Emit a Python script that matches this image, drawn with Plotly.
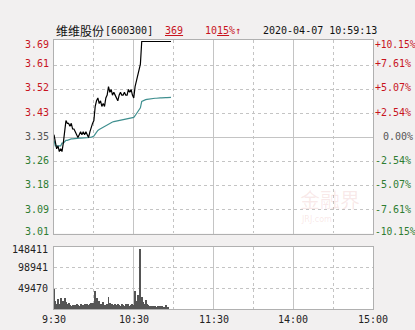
import plotly.graph_objects as go

# ---------------- data ----------------
prev_close = 3.35
price_levels = [3.69, 3.61, 3.52, 3.43, 3.35, 3.26, 3.18, 3.09, 3.01]
pct_labels = ["+10.15%", "+7.61%", "+5.07%", "+2.54%", "0.00%", "-2.54%", "-5.07%", "-7.61%", "-10.15%"]
vol_levels = [148411, 98941, 49470]
time_labels = ["9:30", "10:30", "11:30", "14:00", "15:00"]
time_pos = [0, 60, 120, 180, 240]

price = [3.36, 3.33, 3.31, 3.32, 3.30, 3.31, 3.30, 3.33, 3.38, 3.41,
         3.40, 3.40, 3.39, 3.40, 3.38, 3.38, 3.37, 3.36, 3.35, 3.36,
         3.37, 3.36, 3.37, 3.36, 3.37, 3.36, 3.35, 3.37, 3.39, 3.40,
         3.41, 3.46, 3.48, 3.49, 3.47, 3.48, 3.46, 3.47, 3.46, 3.49,
         3.50, 3.53, 3.51, 3.52, 3.50, 3.51, 3.50, 3.49, 3.48, 3.50,
         3.51, 3.50, 3.50, 3.51, 3.50, 3.50, 3.52, 3.51, 3.52, 3.50,
         3.49, 3.53, 3.55, 3.57, 3.58, 3.61, 3.69, 3.69, 3.69, 3.69,
         3.69, 3.69, 3.69, 3.69, 3.69, 3.69, 3.69, 3.69, 3.69, 3.69,
         3.69, 3.69, 3.69, 3.69, 3.69, 3.69, 3.69, 3.69, 3.69]

avg_price = [3.34, 3.32, 3.32, 3.32, 3.32, 3.32, 3.33, 3.33, 3.335, 3.34,
             3.34, 3.342, 3.344, 3.345, 3.345, 3.346, 3.346, 3.347, 3.347, 3.348,
             3.348, 3.348, 3.349, 3.349, 3.349, 3.35, 3.35, 3.35, 3.351, 3.352,
             3.355, 3.362, 3.37, 3.375, 3.378, 3.381, 3.384, 3.387, 3.39, 3.392,
             3.395, 3.399, 3.401, 3.403, 3.405, 3.406, 3.407, 3.408, 3.409, 3.41,
             3.411, 3.412, 3.413, 3.414, 3.415, 3.416, 3.417, 3.418, 3.419, 3.42,
             3.421, 3.427, 3.433, 3.44, 3.447, 3.455, 3.478, 3.481, 3.483, 3.484,
             3.485, 3.486, 3.487, 3.487, 3.488, 3.488, 3.489, 3.489, 3.49, 3.49,
             3.49, 3.49, 3.491, 3.491, 3.491, 3.491, 3.491, 3.492, 3.492]

volume = [47900, 19000, 13000, 24000, 12000, 25500, 14000, 20000, 27000, 16000,
          11000, 13500, 9500, 8000, 10500, 7500, 9000, 12000, 8500, 7000,
          11000, 8000, 9500, 12500, 7500, 13000, 9000, 11000, 15000, 14000,
          12500, 43900, 26000, 17000, 20000, 12000, 9000, 17500, 10000, 9000,
          11000, 28700, 14000, 9500, 11500, 8500, 13000, 9000, 12000, 10500,
          8000, 12500, 9500, 8000, 11000, 9000, 12500, 7500, 10000, 13000,
          9500, 43900, 18000, 33500, 12000, 143600, 28000, 16000, 11000, 21500,
          12000, 9500, 7500, 6500, 8000, 6000, 7000, 5500, 6500, 5000,
          7000, 6000, 5500, 4500, 8500, 5000, 4000]

minutes_p = list(range(len(price)))
minutes_v = list(range(len(volume)))

# ---------------- style ----------------
RED = "#c8141e"
GREEN = "#2f7d32"
GRAY = "#555555"
BG = "#f2f0f0"
GRID = "#c4c4c4"
MONO = "DejaVu Sans Mono"

W, H = 415, 330
X0, X1 = 54, 373
PY0, PY1 = 39.5, 233.5
VY0, VY1 = 247, 309
Y_TOP = 3.697   # small head-room so the limit-up line shows under the frame

def fy(px):
    return 1 - px / H

fig = go.Figure()
fig.add_trace(go.Scatter(x=minutes_p, y=avg_price, mode="lines",
                         line=dict(color="#3f8f8f", width=1.2),
                         xaxis="x", yaxis="y", hoverinfo="skip"))
fig.add_trace(go.Scatter(x=minutes_p, y=price, mode="lines",
                         line=dict(color="#000000", width=1.2, shape="linear"),
                         xaxis="x", yaxis="y", hoverinfo="skip"))
fig.add_trace(go.Bar(x=minutes_v, y=volume, marker=dict(color="#555555", line=dict(width=0)),
                     width=0.75, xaxis="x2", yaxis="y2", hoverinfo="skip"))

xcommon = dict(range=[0, 240], domain=[X0 / W, X1 / W], showticklabels=False,
               tickmode="linear", tick0=0, dtick=60, ticks="",
               showgrid=True, gridcolor=GRID, gridwidth=1,
               minor=dict(tickmode="linear", tick0=30, dtick=60, showgrid=True,
                          gridcolor=GRID, griddash="dot", gridwidth=1),
               showline=True, linecolor="#b0b0b0", linewidth=1, mirror=True,
               zeroline=False, fixedrange=True)

fig.update_layout(
    width=W, height=H, margin=dict(l=0, r=0, t=0, b=0),
    paper_bgcolor=BG, plot_bgcolor="#ffffff", showlegend=False, bargap=0,
    xaxis=dict(**xcommon, anchor="y"),
    xaxis2=dict(**xcommon, anchor="y2"),
    yaxis=dict(range=[price_levels[-1], Y_TOP], domain=[fy(PY1), fy(PY0)],
               showticklabels=False, tickmode="array", tickvals=[prev_close], ticks="",
               showgrid=True, gridcolor=GRID, gridwidth=1,
               minor=dict(tickmode="array",
                          tickvals=[3.605, 3.52, 3.435, 3.265, 3.18, 3.095],
                          showgrid=True, gridcolor=GRID, griddash="dot", gridwidth=1),
               showline=True, linecolor="#b0b0b0", linewidth=1, mirror=True,
               zeroline=False, fixedrange=True, anchor="x"),
    yaxis2=dict(range=[0, vol_levels[0]], domain=[fy(VY1), fy(VY0)],
                showticklabels=False, tickmode="array", tickvals=[], ticks="",
                showgrid=False,
                minor=dict(tickmode="array", tickvals=vol_levels[1:],
                           showgrid=True, gridcolor=GRID, griddash="dot", gridwidth=1),
                showline=True, linecolor="#b0b0b0", linewidth=1, mirror=True,
                zeroline=False, fixedrange=True, anchor="x2"),
)

ann = []
n = len(price_levels)
for i, (lv, pl) in enumerate(zip(price_levels, pct_labels)):
    ypx = PY0 + i * (PY1 - PY0) / (n - 1)
    if i == 0:
        ypx += 5
    if i == n - 1:
        ypx -= 2
    col = RED if lv > prev_close else (GREEN if lv < prev_close else GRAY)
    ann.append(dict(x=(X0 - 3) / W, y=fy(ypx), xref="paper", yref="paper", text=f"{lv:.2f}",
                    xanchor="right", yanchor="middle", showarrow=False,
                    font=dict(family=MONO, size=10, color=col)))
    xl = X1 + (8 if pl == "0.00%" else 0)
    ann.append(dict(x=xl / W, y=fy(ypx), xref="paper", yref="paper", text=pl,
                    xanchor="left", yanchor="middle", showarrow=False,
                    font=dict(family=MONO, size=10 if len(pl) < 7 else 9.6, color=col)))

for i, v in enumerate(vol_levels):
    ypx = VY0 + i * (VY1 - VY0) / 3 + (2 if i == 0 else 0)
    ann.append(dict(x=(X0 - 4) / W, y=fy(ypx), xref="paper", yref="paper", text=str(v),
                    xanchor="right", yanchor="middle", showarrow=False,
                    font=dict(family=MONO, size=10, color="#222222")))

for t, p in zip(time_labels, time_pos):
    xpx = X0 + (X1 - X0) * p / 240
    ann.append(dict(x=xpx / W, y=fy(319), xref="paper", yref="paper", text=t,
                    xanchor="center", yanchor="middle", showarrow=False,
                    font=dict(family=MONO, size=10, color="#222222")))

ann.append(dict(x=54 / W, y=fy(30), xref="paper", yref="paper", text="维维股份",
                xanchor="left", yanchor="middle", showarrow=False,
                font=dict(family="Noto Sans CJK SC", size=12, color="#111111")))
ann.append(dict(x=103 / W, y=fy(30), xref="paper", yref="paper", text="[600300]",
                xanchor="left", yanchor="middle", showarrow=False,
                font=dict(family=MONO, size=10, color="#111111")))
ann.append(dict(x=163 / W, y=fy(30), xref="paper", yref="paper", text="<u>369</u>",
                xanchor="left", yanchor="middle", showarrow=False,
                font=dict(family=MONO, size=10, color=RED)))
ann.append(dict(x=203 / W, y=fy(30), xref="paper", yref="paper", text="10<u>15</u>%↑",
                xanchor="left", yanchor="middle", showarrow=False,
                font=dict(family=MONO, size=10, color=RED)))
ann.append(dict(x=261 / W, y=fy(30), xref="paper", yref="paper", text="2020-04-07 10:59:13",
                xanchor="left", yanchor="middle", showarrow=False,
                font=dict(family=MONO, size=10, color="#111111")))

# watermark
ann.append(dict(x=330 / W, y=fy(199), xref="paper", yref="paper", text="金融界",
                xanchor="center", yanchor="middle", showarrow=False,
                font=dict(family="Noto Sans CJK SC", size=20, color="rgba(215,120,120,0.16)")))
ann.append(dict(x=316 / W, y=fy(219), xref="paper", yref="paper", text="JRJ.com",
                xanchor="center", yanchor="middle", showarrow=False,
                font=dict(family="DejaVu Sans", size=8, color="rgba(215,120,120,0.18)")))

fig.update_layout(annotations=ann)
fig.write_html("out.html")
